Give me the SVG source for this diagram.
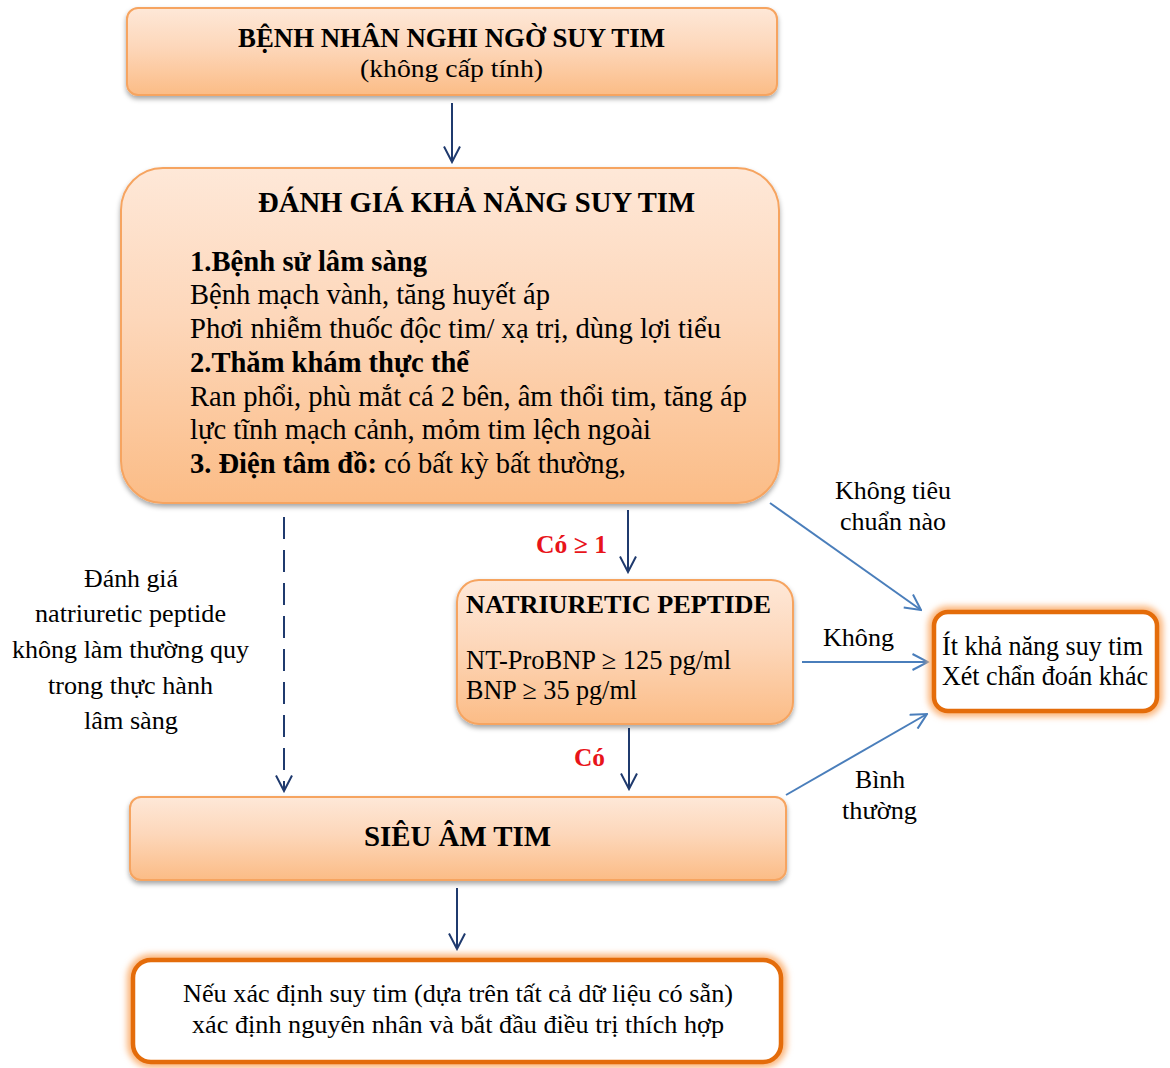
<svg xmlns="http://www.w3.org/2000/svg" width="1170" height="1068" viewBox="0 0 1170 1068">
<defs>
<linearGradient id="peach" x1="0" y1="0" x2="0" y2="1">
<stop offset="0" stop-color="#fee8d8"/>
<stop offset="0.45" stop-color="#fdd7ba"/>
<stop offset="1" stop-color="#fbbc86"/>
</linearGradient>
<filter id="shadow" x="-5%" y="-10%" width="110%" height="130%">
<feDropShadow dx="0" dy="3" stdDeviation="2.5" flood-color="#000" flood-opacity="0.35"/>
</filter>
<filter id="glow" x="-10%" y="-20%" width="120%" height="140%">
<feGaussianBlur stdDeviation="3"/>
</filter>
<marker id="navyHead" viewBox="0 0 18 18" refX="16.5" refY="9" markerWidth="18" markerHeight="18" markerUnits="userSpaceOnUse" orient="auto">
<path d="M1,1 L16.5,9 L1,17" fill="none" stroke="#1f3a6e" stroke-width="2"/>
</marker>
<marker id="blueHead" viewBox="0 0 18 18" refX="16.5" refY="9" markerWidth="18" markerHeight="18" markerUnits="userSpaceOnUse" orient="auto">
<path d="M1,1 L16.5,9 L1,17" fill="none" stroke="#4a7ebb" stroke-width="2"/>
</marker>
</defs>
<style>
.box{fill:url(#peach);stroke:#f6a460;stroke-width:2;filter:url(#shadow)}
.wbox{fill:#fff;stroke:#e46c0a;stroke-width:4.5}
.halo{fill:none;stroke:#fbb57a;stroke-width:12;filter:url(#glow)}
text{font-family:"Liberation Serif","Times New Roman",serif;fill:#000}
.b{font-weight:bold}
.red{fill:#e8141a;font-weight:bold}
.navy{stroke:#1f3a6e;stroke-width:2;fill:none;marker-end:url(#navyHead)}
.blue{stroke:#4a7ebb;stroke-width:2;fill:none;marker-end:url(#blueHead)}
</style>
<rect width="1170" height="1068" fill="#fff"/>

<g id="connectors">
<line class="navy" x1="452" y1="103" x2="452" y2="162"/>
<line class="navy" x1="628" y1="510" x2="628" y2="572"/>
<line class="navy" x1="629" y1="728" x2="629" y2="789"/>
<line class="navy" x1="457" y1="888" x2="457" y2="949"/>
<line class="navy" x1="284" y1="517" x2="284" y2="791" stroke-dasharray="22 11"/>
<line class="blue" x1="770" y1="503" x2="921" y2="610"/>
<line class="blue" x1="802" y1="662" x2="928" y2="662"/>
<line class="blue" x1="786" y1="795" x2="927" y2="714"/>
<text class="red" x="536" y="553" font-size="25" textLength="71" lengthAdjust="spacingAndGlyphs">Có ≥ 1</text>
<text class="red" x="574" y="766" font-size="25" textLength="31" lengthAdjust="spacingAndGlyphs">Có</text>
<text x="893" y="499" font-size="26" text-anchor="middle" textLength="116" lengthAdjust="spacingAndGlyphs">Không tiêu</text>
<text x="893" y="530" font-size="26" text-anchor="middle" textLength="106" lengthAdjust="spacingAndGlyphs">chuẩn nào</text>
<text x="858.5" y="646" font-size="26" text-anchor="middle" textLength="71" lengthAdjust="spacingAndGlyphs">Không</text>
<text x="880" y="788" font-size="26" text-anchor="middle" textLength="50" lengthAdjust="spacingAndGlyphs">Bình</text>
<text x="879.5" y="819" font-size="26" text-anchor="middle" textLength="75" lengthAdjust="spacingAndGlyphs">thường</text>
<g id="label-left">
<text x="131" y="587" font-size="26" text-anchor="middle" textLength="94" lengthAdjust="spacingAndGlyphs">Đánh giá</text>
<text x="130.5" y="622" font-size="26" text-anchor="middle" textLength="191" lengthAdjust="spacingAndGlyphs">natriuretic peptide</text>
<text x="130.5" y="658" font-size="26" text-anchor="middle" textLength="237" lengthAdjust="spacingAndGlyphs">không làm thường quy</text>
<text x="130.5" y="694" font-size="26" text-anchor="middle" textLength="165" lengthAdjust="spacingAndGlyphs">trong thực hành</text>
<text x="131" y="729" font-size="26" text-anchor="middle" textLength="94" lengthAdjust="spacingAndGlyphs">lâm sàng</text>
</g>
</g>

<g id="node-suspect">
<rect class="box" x="127" y="8" width="650" height="87" rx="11"/>
<text class="b" x="451.5" y="47" font-size="27" text-anchor="middle" textLength="427" lengthAdjust="spacingAndGlyphs">BỆNH NHÂN NGHI NGỜ SUY TIM</text>
<text x="451.5" y="77" font-size="26" text-anchor="middle" textLength="183" lengthAdjust="spacingAndGlyphs">(không cấp tính)</text>
</g>

<g id="node-assess">
<rect class="box" x="121" y="168" width="658" height="335" rx="42"/>
<text class="b" x="476.5" y="212" font-size="29" text-anchor="middle" textLength="437" lengthAdjust="spacingAndGlyphs">ĐÁNH GIÁ KHẢ NĂNG SUY TIM</text>
<text class="b" x="190" y="271" font-size="29" textLength="237" lengthAdjust="spacingAndGlyphs">1.Bệnh sử lâm sàng</text>
<text x="190" y="304" font-size="29" textLength="360" lengthAdjust="spacingAndGlyphs">Bệnh mạch vành, tăng huyết áp</text>
<text x="190" y="338" font-size="29" textLength="531" lengthAdjust="spacingAndGlyphs">Phơi nhiễm thuốc độc tim/ xạ trị, dùng lợi tiểu</text>
<text class="b" x="190" y="372" font-size="29" textLength="279" lengthAdjust="spacingAndGlyphs">2.Thăm khám thực thể</text>
<text x="190" y="406" font-size="29" textLength="557" lengthAdjust="spacingAndGlyphs">Ran phổi, phù mắt cá 2 bên, âm thổi tim, tăng áp</text>
<text x="190" y="439" font-size="29" textLength="461" lengthAdjust="spacingAndGlyphs">lực tĩnh mạch cảnh, mỏm tim lệch ngoài</text>
<text x="190" y="473" font-size="29" textLength="436" lengthAdjust="spacingAndGlyphs"><tspan font-weight="bold">3. Điện tâm đồ:</tspan> có bất kỳ bất thường,</text>
</g>

<g id="node-np">
<rect class="box" x="457" y="580" width="336" height="144" rx="22"/>
<text class="b" x="466" y="613" font-size="26" textLength="305" lengthAdjust="spacingAndGlyphs">NATRIURETIC PEPTIDE</text>
<text x="466" y="669" font-size="27" textLength="265" lengthAdjust="spacingAndGlyphs">NT-ProBNP ≥ 125 pg/ml</text>
<text x="466" y="699" font-size="27" textLength="171" lengthAdjust="spacingAndGlyphs">BNP ≥ 35 pg/ml</text>
</g>

<g id="node-unlikely">
<rect class="halo" x="934" y="612" width="223" height="99" rx="14"/>
<rect class="wbox" x="934" y="612" width="223" height="99" rx="14"/>
<text x="942" y="655" font-size="27" textLength="201" lengthAdjust="spacingAndGlyphs">Ít khả năng suy tim</text>
<text x="942" y="685" font-size="27" textLength="206" lengthAdjust="spacingAndGlyphs">Xét chẩn đoán khác</text>
</g>

<g id="node-echo">
<rect class="box" x="130" y="797" width="656" height="83" rx="11"/>
<text class="b" x="457.5" y="846" font-size="29" text-anchor="middle" textLength="187" lengthAdjust="spacingAndGlyphs">SIÊU ÂM TIM</text>
</g>

<g id="node-confirm">
<rect class="halo" x="133" y="960" width="648" height="102" rx="18"/>
<rect class="wbox" x="133" y="960" width="648" height="102" rx="18"/>
<text x="458" y="1002" font-size="26" text-anchor="middle" textLength="550" lengthAdjust="spacingAndGlyphs">Nếu xác định suy tim (dựa trên tất cả dữ liệu có sẵn)</text>
<text x="458" y="1033" font-size="26" text-anchor="middle" textLength="532" lengthAdjust="spacingAndGlyphs">xác định nguyên nhân và bắt đầu điều trị thích hợp</text>
</g>
</svg>
